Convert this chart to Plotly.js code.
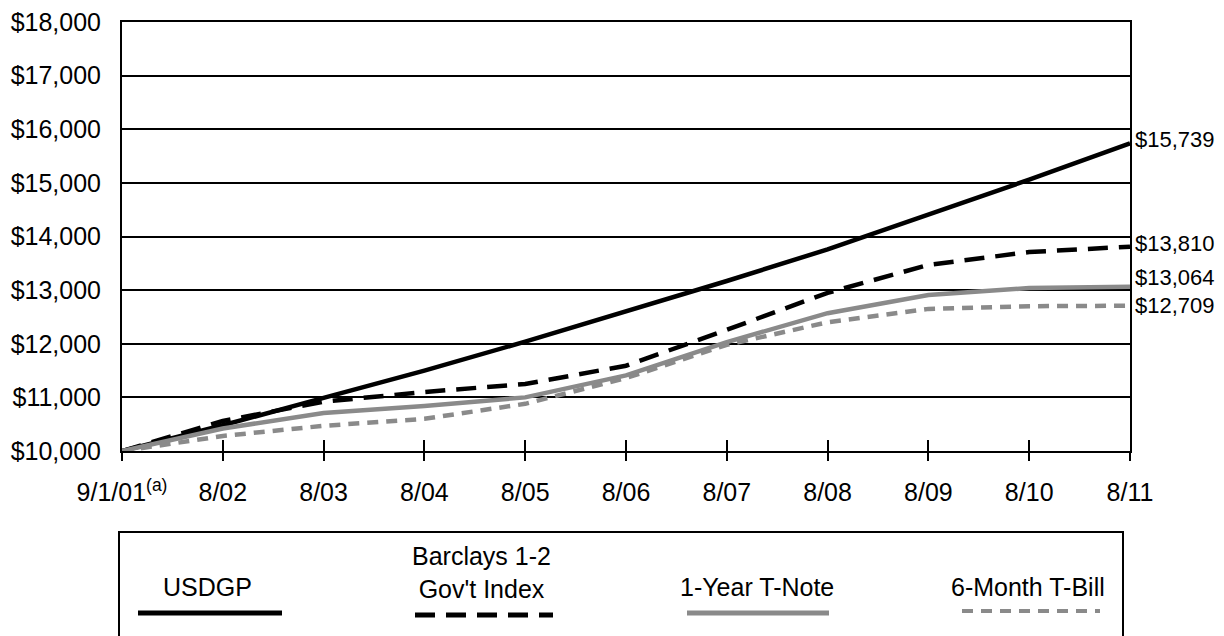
<!DOCTYPE html>
<html>
<head>
<meta charset="utf-8">
<script src="https://cdn.plot.ly/plotly-3.0.1.min.js"></script>
<style>
html,body{margin:0;padding:0;background:#fff;}
#chart{width:1224px;height:636px;}
</style>
</head>
<body>
<div id="chart"></div>
<script>
// ---- data ----
const xLabels = ["9/1/01<sup>(a)</sup>", "8/02", "8/03", "8/04", "8/05", "8/06", "8/07", "8/08", "8/09", "8/10", "8/11"];
const usdgp    = [10000, 10480, 10990, 11500, 12040, 12600, 13170, 13760, 14400, 15060, 15739];
const barclays = [10000, 10560, 10920, 11100, 11250, 11590, 12260, 12950, 13470, 13710, 13810];
const tNote1y  = [10000, 10420, 10710, 10840, 11000, 11410, 12030, 12570, 12910, 13040, 13064];
const tBill6m  = [10000, 10280, 10470, 10600, 10880, 11360, 11980, 12400, 12650, 12700, 12709];
const endLabels = ["$15,739", "$13,810", "$13,064", "$12,709"];
const seriesNames = ["USDGP", "Barclays 1-2<br>Gov't Index", "1-Year T-Note", "6-Month T-Bill"];

const xIdx = xLabels.map((_, i) => i);
const FONT = "Liberation Sans, Arial, Helvetica, sans-serif";
const GRAY = "#8a8a8a";

const styles = [
  {color: "#000", width: 4.5, dash: "solid"},
  {color: "#000", width: 4.5, dash: "20px,11px"},
  {color: GRAY, width: 4.5, dash: "solid"},
  {color: GRAY, width: 4.5, dash: "11px,8px"}
];
const allSeries = [usdgp, barclays, tNote1y, tBill6m];

const traces = allSeries.map((ys, k) => ({
  x: xIdx, y: ys, type: "scatter", mode: "lines",
  line: {color: styles[k].color, width: styles[k].width, dash: styles[k].dash},
  name: seriesNames[k].replace("<br>", " "), showlegend: false, hoverinfo: "skip"
}));
// invisible trace on overlay axis for crossing ticks
traces.push({x: xIdx, y: usdgp, xaxis: "x2", type: "scatter", mode: "lines",
  line: {width: 0}, opacity: 0, showlegend: false, hoverinfo: "skip"});

// pixel -> paper helpers (plot area 122..1130 x, 22..451 y)
const L = 122, R = 1130, T = 22, B = 451;
const X = px => (px - L) / (R - L);
const Y = py => (B - py) / (B - T);

const annotations = [];
const yShifts = [4, 3, 9, 0];
allSeries.forEach((ys, k) => {
  annotations.push({
    x: xIdx[xIdx.length - 1], y: ys[ys.length - 1], xref: "x", yref: "y",
    text: endLabels[k], showarrow: false, xanchor: "left", yanchor: "middle",
    xshift: 3, yshift: yShifts[k],
    font: {family: FONT, size: 22, color: "#000"}
  });
});

// legend texts
const legText = [
  {cx: 207, cy: 587},
  {cx: 481, cy: 572},
  {cx: 757, cy: 587},
  {cx: 1028, cy: 587}
];
legText.forEach((p, k) => {
  annotations.push({
    x: X(p.cx), y: Y(p.cy), xref: "paper", yref: "paper",
    text: seriesNames[k], showarrow: false, xanchor: "center", yanchor: "middle",
    font: {family: FONT, size: 25, color: "#000"}
  });
});

const legLines = [
  {x0: 138, x1: 282, y: 613, w: 5},
  {x0: 415, x1: 553, y: 615, w: 5},
  {x0: 687, x1: 829, y: 613, w: 5},
  {x0: 962, x1: 1100, y: 611, w: 4}
];
const shapes = [
  {type: "rect", xref: "paper", yref: "paper",
   x0: X(119), x1: X(1123), y0: Y(645), y1: Y(532),
   line: {color: "#000", width: 2}, fillcolor: "rgba(0,0,0,0)"}
];
legLines.forEach((l, k) => {
  shapes.push({type: "line", xref: "paper", yref: "paper",
    x0: X(l.x0), x1: X(l.x1), y0: Y(l.y), y1: Y(l.y),
    line: {color: styles[k].color, width: l.w, dash: styles[k].dash}});
});

const layout = {
  width: 1224, height: 636,
  margin: {l: L, r: 1224 - R, t: T, b: 636 - B},
  paper_bgcolor: "#fff", plot_bgcolor: "#fff",
  font: {family: FONT, color: "#000"},
  showlegend: false,
  xaxis: {
    range: [0, 10], tickvals: xIdx, ticktext: xLabels,
    showgrid: false, zeroline: false,
    showline: true, linecolor: "#000", linewidth: 2, mirror: true,
    ticks: "outside", ticklen: 8, tickwidth: 2, tickcolor: "#000",
    ticklabelstandoff: 10,
    tickfont: {family: FONT, size: 25, color: "#000"}
  },
  xaxis2: {
    overlaying: "x", matches: "x", range: [0, 10], tickvals: xIdx,
    showticklabels: false, showgrid: false, zeroline: false, showline: false,
    ticks: "inside", ticklen: 11, tickwidth: 2, tickcolor: "#000", side: "bottom"
  },
  yaxis: {
    range: [10000, 18000], dtick: 1000, tick0: 10000,
    tickprefix: "$", tickformat: ",.0f",
    showgrid: true, gridcolor: "#000", gridwidth: 2,
    zeroline: false,
    showline: true, linecolor: "#000", linewidth: 2, mirror: true,
    ticks: "", ticklabelstandoff: 14,
    tickfont: {family: FONT, size: 25, color: "#000"}
  },
  annotations: annotations,
  shapes: shapes
};

Plotly.newPlot("chart", traces, layout, {displayModeBar: false, staticPlot: true});
</script>
</body>
</html>
